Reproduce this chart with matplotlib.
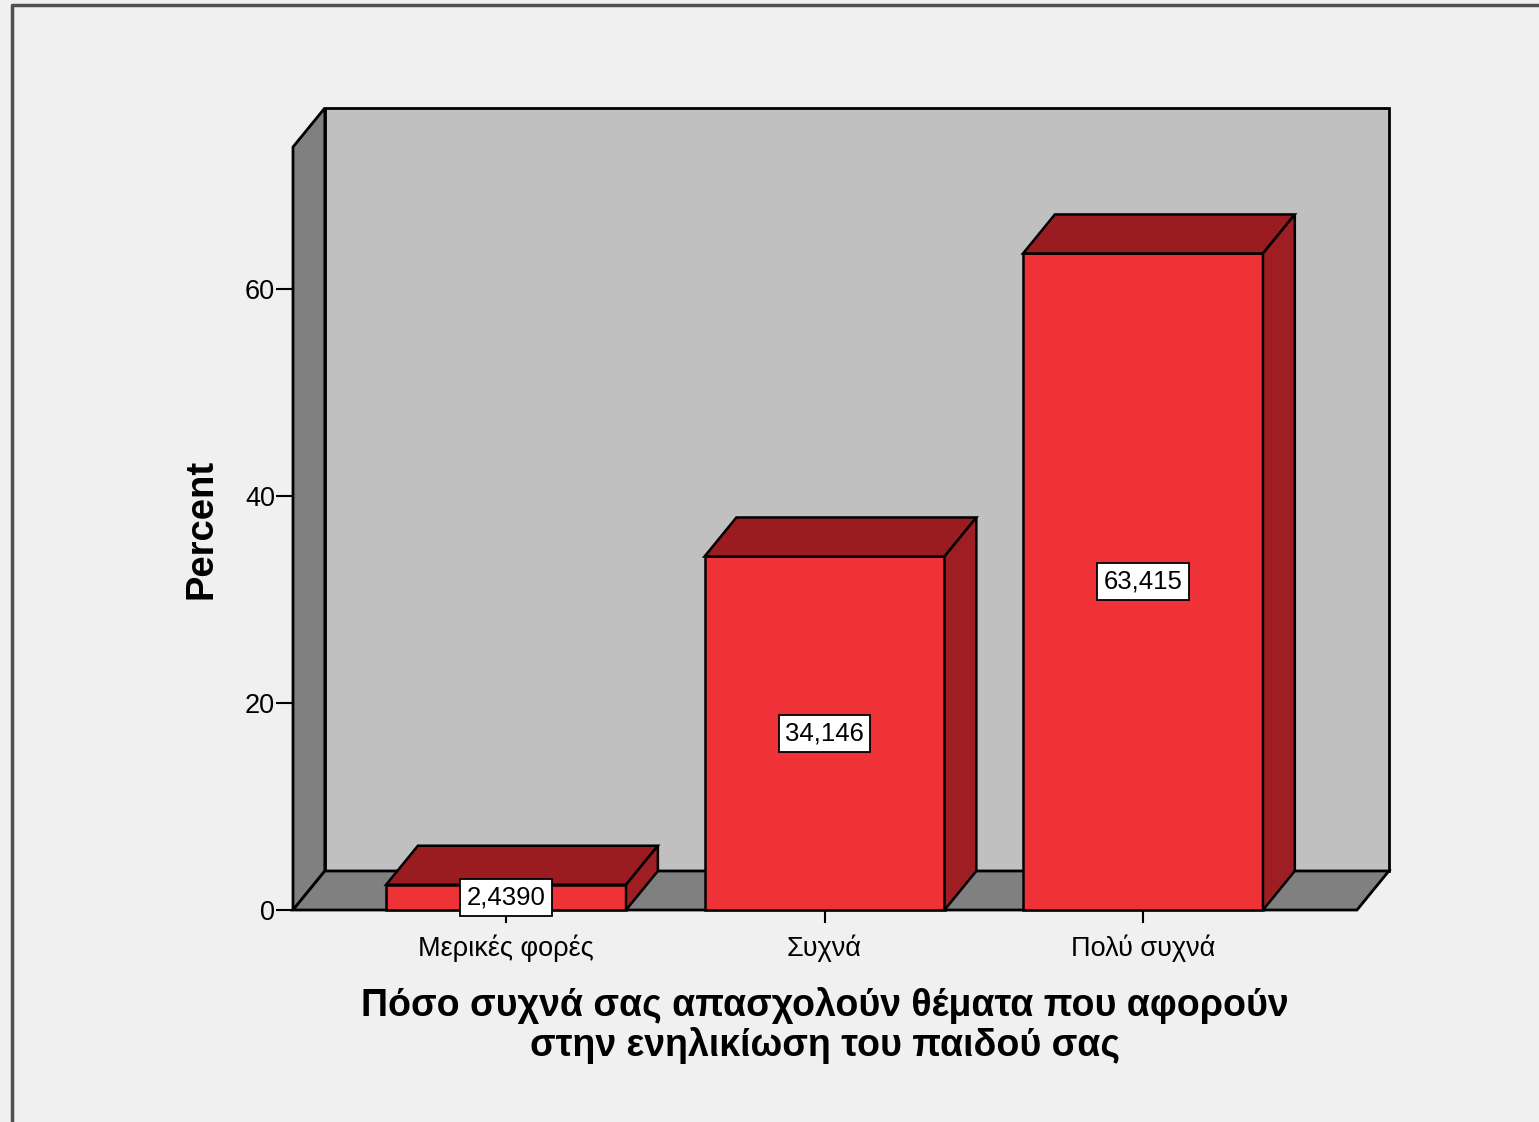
import matplotlib.pyplot as plt
from matplotlib.patches import Polygon, Rectangle
from matplotlib.lines import Line2D

# данные
categories = ['Μερικές φορές', 'Συχνά', 'Πολύ συχνά']
percents = [2.4390, 34.146, 63.415]
value_labels = ['2,4390', '34,146', '63,415']
y_ticks = [0, 20, 40, 60]
x_title = 'Πόσο συχνά σας απασχολούν θέματα που αφορούν\nστην ενηλικίωση του παιδού σας'

plt.rcParams['font.family'] = ['Liberation Sans', 'DejaVu Sans']

W, H = 1539, 1122
fig = plt.figure(figsize=(W / 100, H / 100), dpi=100)
fig.patch.set_facecolor('#f0f0f0')

# рамка окна (слева и сверху)
fig.add_artist(Line2D([12 / W, 12 / W, 1.0], [0.0, 1 - 5 / H, 1 - 5 / H],
                      transform=fig.transFigure, color='#505050', lw=2.5))

ax = fig.add_axes([293 / W, 1 - 910 / H, 1064 / W, 763 / H])
ax.set_xlim(-0.669, 2.672)
ax.set_ylim(0, 73.7)
ax.patch.set_visible(False)
for s in ax.spines.values():
    s.set_visible(False)

DX, DY = 0.1, 3.77   # глубина 3D
BW = 0.7535          # ширина столбца
x0, x1 = ax.get_xlim()
ytop = ax.get_ylim()[1]

wall_kw = dict(ec='black', lw=2, clip_on=False, joinstyle='miter')
# задняя стена, левая стена, пол
ax.add_patch(Polygon([(x0 + DX, DY), (x1 + DX, DY), (x1 + DX, ytop + DY), (x0 + DX, ytop + DY)],
                     fc='#c0c0c0', zorder=1, **wall_kw))
ax.add_patch(Polygon([(x0, 0), (x0, ytop), (x0 + DX, ytop + DY), (x0 + DX, DY)],
                     fc='#808080', zorder=2, **wall_kw))
ax.add_patch(Polygon([(x0, 0), (x1, 0), (x1 + DX, DY), (x0 + DX, DY)],
                     fc='#808080', zorder=2, **wall_kw))

front_c, top_c, side_c = '#ef3237', '#9a1c21', '#9e1e23'
bar_kw = dict(ec='black', lw=1.8, clip_on=False, joinstyle='miter')
for i, v in enumerate(percents):
    xl, xr = i - BW / 2, i + BW / 2
    ax.add_patch(Rectangle((xl, 0), BW, v, fc=front_c, zorder=3, **bar_kw))
    ax.add_patch(Polygon([(xl, v), (xr, v), (xr + DX, v + DY), (xl + DX, v + DY)],
                         fc=top_c, zorder=3, **bar_kw))
    ax.add_patch(Polygon([(xr, 0), (xr, v), (xr + DX, v + DY), (xr + DX, DY)],
                         fc=side_c, zorder=3, **bar_kw))
    ax.text(i, v / 2, value_labels[i], ha='center', va='center', fontsize=18.5, zorder=5,
            bbox=dict(boxstyle='square,pad=0.25', fc='white', ec='black', lw=1.3))

ax.set_yticks(y_ticks)
ax.set_yticklabels([str(t) for t in y_ticks], fontsize=19.5)
ax.set_xticks(range(len(categories)))
ax.set_xticklabels(categories, fontsize=19.5)
ax.tick_params(axis='y', length=12, width=1.5, pad=1)
ax.tick_params(axis='x', length=9, width=1.5, pad=9)

ax.set_ylabel('Percent', fontsize=27.5, fontweight='bold', labelpad=18)
ax.set_xlabel(x_title, fontsize=27, fontweight='bold', labelpad=18, linespacing=1.1)

plt.savefig('out.png', dpi=100, facecolor=fig.get_facecolor())
